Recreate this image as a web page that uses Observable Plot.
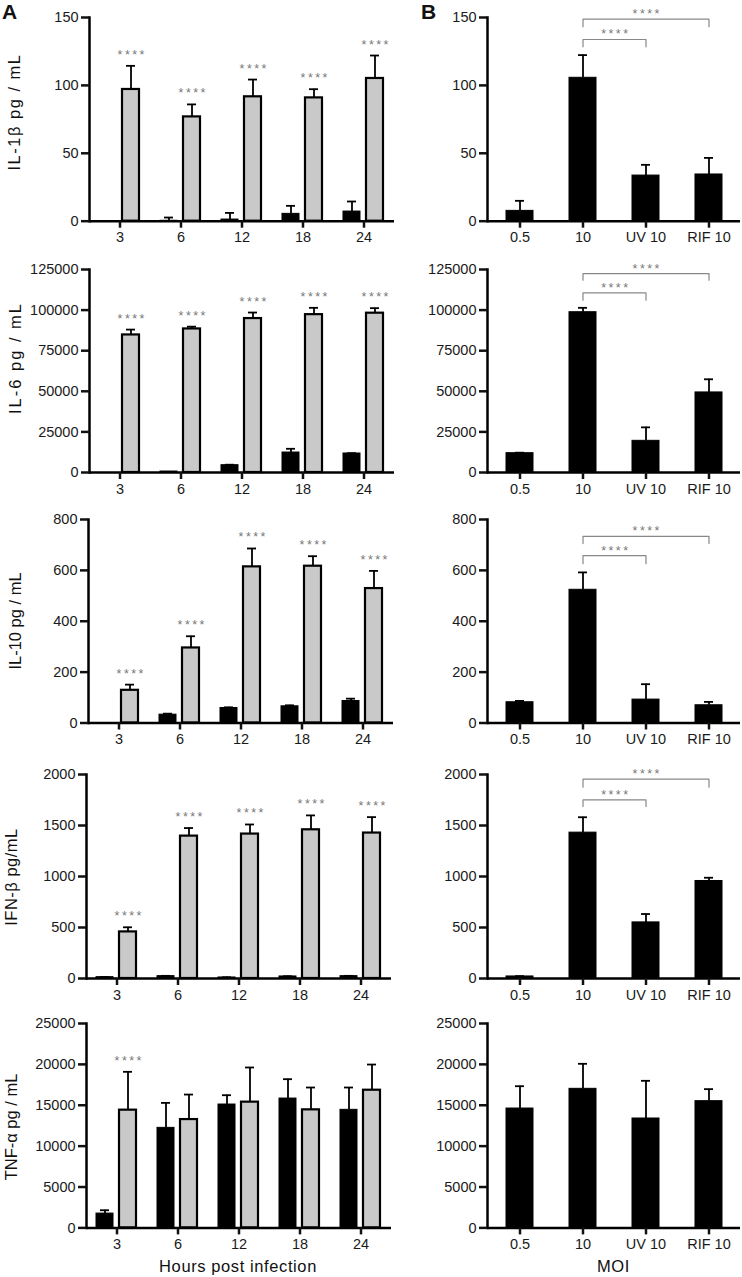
<!DOCTYPE html>
<html><head><meta charset="utf-8">
<script src="https://cdn.jsdelivr.net/npm/d3@7"></script>
<script src="https://cdn.jsdelivr.net/npm/@observablehq/plot@0.6"></script>
<style>
body{margin:0;background:#fff;}
#fig{position:relative;width:742px;height:1277px;overflow:hidden;font-family:"Liberation Sans",Arial,sans-serif;color:#111;}
#fig svg{position:absolute;}
.panel{position:absolute;font-weight:bold;font-size:21px;line-height:21px;}
.ylab{position:absolute;white-space:nowrap;font-size:16.5px;line-height:18px;transform:translate(-50%,-50%) rotate(-90deg);}
.xlab{position:absolute;white-space:nowrap;font-size:16.5px;line-height:16px;letter-spacing:0.6px;transform:translate(-50%,0);}
</style></head><body><div id="fig"></div><script>
// ---------------- data ----------------
const hours = ["3", "6", "12", "18", "24"];
const moi = ["0.5", "10", "UV 10", "RIF 10"];
const seriesA = ["MOI 0.5", "MOI 10"];
const yLabels = ["IL-1β pg / mL", "IL-6 pg / mL", "IL-10 pg / mL", "IFN-β pg/mL", "TNF-α pg / mL"];
const xTitleA = "Hours post infection";
const xTitleB = "MOI";

const il1bTicks = [0, 50, 100, 150];
const il1bLow = [0, 0.3, 1.2, 5.4, 7.1];
const il1bLowErr = [0, 2.4, 4.9, 5.9, 7.4];
const il1bHigh = [97, 76.8, 91.6, 90.8, 105.1];
const il1bHighErr = [17.4, 9.2, 12.7, 6.4, 16.9];
const il1bStars = ["3", "6", "12", "18", "24"];
const il1bMoi = [7.6, 105.6, 33.6, 34.4];
const il1bMoiErr = [7.4, 16.7, 7.9, 12.2];
const il1bBracket = [133.8, 148.8];
const il1bBracketEnd = [128.4, 143.1];

const il6Ticks = [0, 25000, 50000, 75000, 100000, 125000];
const il6Low = [0, 600, 4500, 12300, 11700];
const il6LowErr = [0, 0, 300, 2300, 200];
const il6High = [84700, 88400, 94800, 97200, 98100];
const il6HighErr = [3300, 1400, 3700, 4200, 3100];
const il6Stars = ["3", "6", "12", "18", "24"];
const il6Moi = [11900, 98700, 19500, 49300];
const il6MoiErr = [300, 2700, 8300, 8100];
const il6Bracket = [110600, 122500];
const il6BracketEnd = [106100, 118400];

const il10Ticks = [0, 200, 400, 600, 800];
const il10Low = [0, 32.8, 59, 65.6, 86.6];
const il10LowErr = [0, 3.9, 2.6, 3.9, 9.1];
const il10High = [128.5, 295, 613.8, 616.4, 528.5];
const il10HighErr = [22.3, 46, 72.2, 39.3, 69.5];
const il10Stars = ["3", "6", "12", "18", "24"];
const il10Moi = [81.6, 523.7, 92, 69.7];
const il10MoiErr = [5.2, 68.3, 60.6, 13.2];
const il10Bracket = [657.9, 734];
const il10BracketEnd = [626.3, 705.3];

const ifnbTicks = [0, 500, 1000, 1500, 2000];
const ifnbLow = [13, 23, 10, 20, 23];
const ifnbLowErr = [2, 3, 2, 2, 3];
const ifnbHigh = [456.8, 1396, 1416, 1458, 1426];
const ifnbHighErr = [45.2, 79, 94, 141, 156];
const ifnbStars = ["3", "6", "12", "18", "24"];
const ifnbMoi = [20, 1430, 550, 956];
const ifnbMoiErr = [3, 151, 82, 32];
const ifnbBracket = [1751, 1954];
const ifnbBracketEnd = [1686, 1876];

const tnfaTicks = [0, 5000, 10000, 15000, 20000, 25000];
const tnfaLow = [1750, 12235, 15090, 15820, 14440];
const tnfaLowErr = [410, 3055, 1140, 2370, 2730];
const tnfaHigh = [14400, 13250, 15380, 14440, 16840];
const tnfaHighErr = [4690, 3060, 4240, 2730, 3140];
const tnfaStars = ["3"];
const tnfaMoi = [14600, 17010, 13380, 15500];
const tnfaMoiErr = [2730, 3060, 4610, 1470];
const tnfaBracket = [];
const tnfaBracketEnd = [];

const bracketTargets = ["UV 10", "RIF 10"];   // each compared against "10"
const STARS = "*\u2009*\u2009*\u2009*";

// ---------------- layout ----------------
const FONT = '"Liberation Sans", Arial, sans-serif';
const rows = [
  {ticks: il1bTicks, low: il1bLow, lowErr: il1bLowErr, high: il1bHigh, highErr: il1bHighErr, stars: il1bStars, m: il1bMoi, me: il1bMoiErr, br: il1bBracket, be: il1bBracketEnd},
  {ticks: il6Ticks, low: il6Low, lowErr: il6LowErr, high: il6High, highErr: il6HighErr, stars: il6Stars, m: il6Moi, me: il6MoiErr, br: il6Bracket, be: il6BracketEnd},
  {ticks: il10Ticks, low: il10Low, lowErr: il10LowErr, high: il10High, highErr: il10HighErr, stars: il10Stars, m: il10Moi, me: il10MoiErr, br: il10Bracket, be: il10BracketEnd},
  {ticks: ifnbTicks, low: ifnbLow, lowErr: ifnbLowErr, high: ifnbHigh, highErr: ifnbHighErr, stars: ifnbStars, m: ifnbMoi, me: ifnbMoiErr, br: ifnbBracket, be: ifnbBracketEnd},
  {ticks: tnfaTicks, low: tnfaLow, lowErr: tnfaLowErr, high: tnfaHigh, highErr: tnfaHighErr, stars: tnfaStars, m: tnfaMoi, me: tnfaMoiErr, br: tnfaBracket, be: tnfaBracketEnd}
];
const layout = [
  {top: 17.3, bottom: 221, axL: 89, axR: 394, labX: 14, labY: 112, ls: 1.5},
  {top: 269, bottom: 472, axL: 89, axR: 394, labX: 14.5, labY: 358, ls: 2},
  {top: 519, bottom: 722.5, axL: 87, axR: 393, labX: 14.5, labY: 621, ls: 0},
  {top: 774, bottom: 978, axL: 85, axR: 391, labX: 11, labY: 877, ls: 0.5},
  {top: 1023.3, bottom: 1227.7, axL: 85, axR: 391, labX: 11, labY: 1127, ls: 0}
];
const B_LEFT = 400, B_AXL = 487, B_AXR = 740;
const MT = 16, MB = 30;

const fig = document.getElementById("fig");

function place(el, left, top) { el.style.left = left + "px"; el.style.top = top + "px"; fig.appendChild(el); }

const plotStyle = {background: "transparent", fontFamily: FONT, fontSize: "14.5px", color: "#111", overflow: "visible"};

function plotA(r, L) {
  const data = [];
  hours.forEach((h, i) => {
    data.push({hour: h, s: seriesA[0], v: r.low[i], e: r.lowErr[i]});
    data.push({hour: h, s: seriesA[1], v: r.high[i], e: r.highErr[i]});
  });
  const black = data.filter(d => d.s === seriesA[0]);
  const grey = data.filter(d => d.s === seriesA[1]);
  const err = data.filter(d => d.e > 0);
  const stars = grey.filter(d => r.stars.includes(d.hour));
  const ymax = r.ticks[r.ticks.length - 1];
  return Plot.plot({
    width: L.axR + 4, height: MT + (L.bottom - L.top) + MB,
    marginLeft: L.axL, marginRight: 4, marginTop: MT, marginBottom: MB,
    style: plotStyle,
    fx: {domain: hours, padding: 0},
    x: {domain: seriesA, paddingInner: 0.26, paddingOuter: 0.456, axis: null},
    y: {domain: [0, ymax]},
    marks: [
      Plot.barY(black, {fx: "hour", x: "s", y: "v", fill: "#000", stroke: "#000", strokeWidth: 1}),
      Plot.barY(grey, {fx: "hour", x: "s", y: "v", fill: "#c9c9c9", stroke: "#000", strokeWidth: 2.2}),
      Plot.ruleX(err, {fx: "hour", x: "s", y1: "v", y2: d => d.v + d.e, stroke: "#000", strokeWidth: 1.8}),
      Plot.tickY(err, {fx: "hour", x: "s", y: d => d.v + d.e, stroke: "#000", strokeWidth: 1.8, insetLeft: 4, insetRight: 4}),
      Plot.text(stars, {fx: "hour", x: "s", y: d => d.v + d.e, text: () => STARS, dy: -11, fontSize: 12.5, fill: "#777"}),
      Plot.ruleY([0], {stroke: "#000", strokeWidth: 2.5}),
      Plot.frame({anchor: "left", facetAnchor: "left", stroke: "#000", strokeWidth: 2.5}),
      Plot.axisY({ticks: r.ticks, tickFormat: d3.format("d"), tickSize: 8, tickPadding: 3, fontSize: 14.5, stroke: "#111", strokeWidth: 2.5, fill: "#1a1a1a", label: null}),
      Plot.axisFx({anchor: "bottom", tickSize: 7, tickPadding: 4, fontSize: 14.5, stroke: "#111", strokeWidth: 2.5, fill: "#1a1a1a", label: null})
    ]
  });
}

function plotB(r, L) {
  const data = moi.map((m, i) => ({m, v: r.m[i], e: r.me[i]}));
  const err = data.filter(d => d.e > 0);
  const ymax = r.ticks[r.ticks.length - 1];
  const step = (B_AXR - B_AXL) / moi.length;
  const pts = [], lab = [];
  r.br.forEach((lev, k) => {
    const a = moi.indexOf("10"), b = moi.indexOf(bracketTargets[k]);
    pts.push({b: k, x: moi[a], y: r.be[k]}, {b: k, x: moi[a], y: lev}, {b: k, x: moi[b], y: lev}, {b: k, x: moi[b], y: r.be[k]});
    const mid = (a + b) / 2, fi = Math.floor(mid);
    lab.push({x: moi[fi], y: lev, dx: (mid - fi) * step});
  });
  return Plot.plot({
    width: 742 - B_LEFT, height: MT + (L.bottom - L.top) + MB,
    marginLeft: B_AXL - B_LEFT, marginRight: 742 - B_AXR, marginTop: MT, marginBottom: MB,
    style: plotStyle,
    x: {domain: moi, paddingInner: 0.573, paddingOuter: 0.287},
    y: {domain: [0, ymax]},
    marks: [
      Plot.barY(data, {x: "m", y: "v", fill: "#000", stroke: "#000", strokeWidth: 1}),
      Plot.ruleX(err, {x: "m", y1: "v", y2: d => d.v + d.e, stroke: "#000", strokeWidth: 1.8}),
      Plot.tickY(err, {x: "m", y: d => d.v + d.e, stroke: "#000", strokeWidth: 1.8, insetLeft: 9, insetRight: 9}),
      Plot.line(pts, {x: "x", y: "y", z: "b", stroke: "#888", strokeWidth: 1.2}),
      ...lab.map(l => Plot.text([l], {x: "x", y: "y", text: () => STARS, dx: l.dx, dy: -5, fontSize: 12.5, fill: "#777"})),
      Plot.ruleY([0], {stroke: "#000", strokeWidth: 2.5}),
      Plot.frame({anchor: "left", stroke: "#000", strokeWidth: 2.5}),
      Plot.axisY({ticks: r.ticks, tickFormat: d3.format("d"), tickSize: 8, tickPadding: 3, fontSize: 14.5, stroke: "#111", strokeWidth: 2.5, fill: "#1a1a1a", label: null}),
      Plot.axisX({tickSize: 7, tickPadding: 4, fontSize: 14.5, stroke: "#111", strokeWidth: 2.5, fill: "#1a1a1a", label: null})
    ]
  });
}

rows.forEach((r, i) => {
  const L = layout[i];
  place(plotA(r, L), 0, L.top - MT);
  place(plotB(r, L), B_LEFT, L.top - MT);
  const yl = document.createElement("div");
  yl.className = "ylab"; yl.textContent = yLabels[i]; yl.style.letterSpacing = L.ls + "px";
  place(yl, L.labX, L.labY);
});

const pa = document.createElement("div"); pa.className = "panel"; pa.textContent = "A"; place(pa, 2, 1);
const pb = document.createElement("div"); pb.className = "panel"; pb.textContent = "B"; place(pb, 421, 1);
const L5 = layout[4];
const xa = document.createElement("div"); xa.className = "xlab"; xa.textContent = xTitleA; place(xa, (L5.axL + L5.axR) / 2, 1258);
const xb = document.createElement("div"); xb.className = "xlab"; xb.textContent = xTitleB; place(xb, (B_AXL + B_AXR) / 2, 1258);
</script></body></html>
